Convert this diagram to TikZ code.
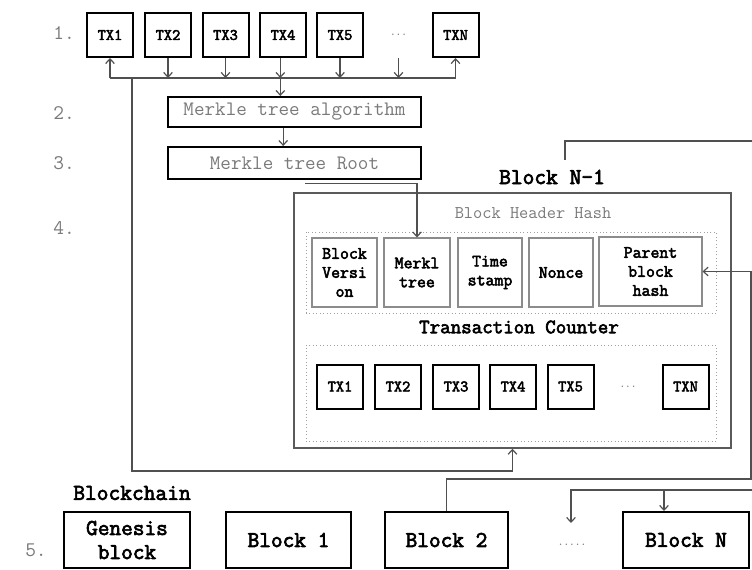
\documentclass[tikz,border=0pt]{standalone}
\usepackage{fontspec}
\setmainfont{Latin Modern Mono}[BoldFont={Latin Modern Mono}, BoldFeatures={FakeBold=3}]
\usetikzlibrary{arrows.meta}
\definecolor{wire}{HTML}{505050}
\definecolor{soft}{HTML}{7A7A7A}
\definecolor{cellline}{HTML}{8C8C8C}
\definecolor{dotline}{HTML}{A0A0A0}
\definecolor{frame}{HTML}{5A5A5A}
\begin{document}
\begin{tikzpicture}[x=0.75pt,y=-0.75pt,
  txbox/.style={draw=black, line width=1.5pt, minimum width=34.5pt, minimum height=33pt,
    inner sep=0pt, font=\bfseries\fontsize{12}{13}\selectfont},
  wide/.style={draw=black, line width=1.5pt, minimum width=189.75pt, inner sep=0pt,
    text=soft, font=\fontsize{15.4}{17}\selectfont},
  cell/.style={draw=cellline, line width=0.8pt, minimum height=51.75pt, inner sep=0pt,
    align=center, font=\bfseries\fontsize{13}{14.25}\selectfont},
  dotbox/.style={draw=dotline, dotted, line width=0.6pt, minimum width=307.5pt, inner sep=0pt},
  chainbox/.style={draw=black, line width=1.5pt, minimum height=42pt, inner sep=0pt,
    align=center, font=\bfseries\fontsize{17}{18}\selectfont},
  numlabel/.style={text=soft, font=\fontsize{15.6}{17}\selectfont, inner sep=0pt},
  conn/.style={draw=wire, line width=0.9pt},
  tip/.style={-{Straight Barb[length=3.5pt,width=6.5pt]}},
]
\useasboundingbox (0,0) rectangle (752,570);
\fill[white] (0,0) rectangle (752,570);

% step numbers
\node[numlabel] (n1) at (64,33) {1.};
\node[numlabel] (n2) at (64,113) {2.};
\node[numlabel] (n3) at (64,163) {3.};
\node[numlabel] (n4) at (64,228) {4.};
\node[numlabel] (n5) at (36,550) {5.};

% pending transactions
\node[txbox] (tx1) at (110,35) {TX1};
\node[txbox] (tx2) at (168,35) {TX2};
\node[txbox] (tx3) at (225.5,35) {TX3};
\node[txbox] (tx4) at (283,35) {TX4};
\node[txbox] (tx5) at (340,35) {TX5};
\node[txbox, draw=none, text=soft, font=\fontsize{8}{10}\selectfont] (txd) at (398.5,35) {...};
\node[txbox] (txn) at (455.5,35) {TXN};

% merkle stage
\node[wide, minimum height=22.5pt] (alg) at (294.5,112) {Merkle tree algorithm};
\node[wide, minimum height=24pt] (root) at (294.5,163) {Merkle tree Root};

% block N-1
\node[draw=frame, line width=1.1pt, minimum width=327.75pt, minimum height=191.25pt, inner sep=0pt]
  (blk) at (512.5,320.5) {};
\node[font=\bfseries\fontsize{17.1}{19}\selectfont, inner sep=0pt] (title) at (552,177) {Block N-1};
\node[text=soft, font=\fontsize{13.4}{15}\selectfont, inner sep=0pt] (hhash) at (533,213) {Block Header Hash};
\node[dotbox, minimum height=60.75pt] (hdr) at (511,272.5) {};
\node[cell, minimum width=48.75pt] (bv) at (344.5,272.5) {Block\\Versi\\on};
\node[cell, minimum width=49.5pt] (mk) at (417,272.5) {Merkl\\tree};
\node[cell, minimum width=48pt] (ts) at (490,272.5) {Time\\stamp};
\node[cell, minimum width=48pt] (nc) at (561,272.5) {Nonce};
\node[cell, minimum width=77.25pt] (pb) at (650.5,271.5) {Parent\\block\\hash};
\node[font=\bfseries\fontsize{15.3}{17}\selectfont, inner sep=0pt] (tcount) at (519,327) {Transaction Counter};
\node[dotbox, minimum height=72pt] (txarea) at (511,393) {};
\node[txbox] (ia) at (340,386.5) {TX1};
\node[txbox] (ib) at (398,386.5) {TX2};
\node[txbox] (ic) at (456,386.5) {TX3};
\node[txbox] (id) at (513,386.5) {TX4};
\node[txbox] (ie) at (570.5,386.5) {TX5};
\node[text=soft, font=\fontsize{8}{10}\selectfont, inner sep=0pt] (idots) at (628,386.5) {...};
\node[txbox] (in) at (685.5,386.5) {TXN};

% blockchain
\node[font=\bfseries\fontsize{17.1}{19}\selectfont, inner sep=0pt] (chain) at (132,493) {Blockchain};
\node[chainbox, minimum width=94.5pt] (gen) at (127,540) {Genesis\\block};
\node[chainbox, minimum width=93.75pt] (b1) at (288.5,540) {Block 1};
\node[chainbox, minimum width=92.25pt] (b2) at (446.5,540) {Block 2};
\node[text=soft, font=\fontsize{8}{10}\selectfont, inner sep=0pt] (bdots) at (572,545) {.....};
\node[chainbox, minimum width=94.5pt] (bn) at (686,540) {Block N};

% corner points of the connectors
\coordinate (bus) at (0,78);
\coordinate (lp) at (132,78);
\coordinate (lpb) at (132,471);
\coordinate (rr) at (751,479);
\coordinate (trs) at (565,160);
\coordinate (tre) at (752,141);
\coordinate (rin) at (752,490);
\coordinate (dd) at (571,523);
\coordinate (bj) at (664,490);

% transactions feed the bus
\draw[conn] (tx1.south |- bus) -- (txn.south |- bus);
\draw[conn, tip] (tx1.south |- bus) -- (tx1.south);
\draw[conn, tip] (txn.south |- bus) -- (txn.south);
\foreach \t in {tx2,tx3,tx5,txd}
  \draw[conn, tip] (\t.south) -- (\t.south |- bus);
\draw[conn, tip] ([xshift=-2pt]tx4.south) -- ([xshift=-2pt]tx4.south |- bus);
\draw[conn, tip] ([xshift=-2pt]tx4.south |- bus) -- ([xshift=-2pt]tx4.south |- alg.north);
\draw[conn, tip] ([xshift=-8.5pt]alg.south) -- ([xshift=-8.5pt]root.north);

% root into the header
\draw[conn, tip] ([xshift=8pt,yshift=-2.5pt]root.south) -| (mk.north);

% transactions loop into block N-1
\draw[conn, tip] (lp) -- (lpb) -| (blk.south);

% parent hash link
\draw[conn, tip] (b2.north) |- (rr) |- (pb.east);

% links leaving the right edge
\draw[conn] (trs) |- (tre);
\draw[conn, tip] (rin) -| (dd);
\draw[conn, tip] (bj) -- (bj |- bn.north);
\end{tikzpicture}
\end{document}
